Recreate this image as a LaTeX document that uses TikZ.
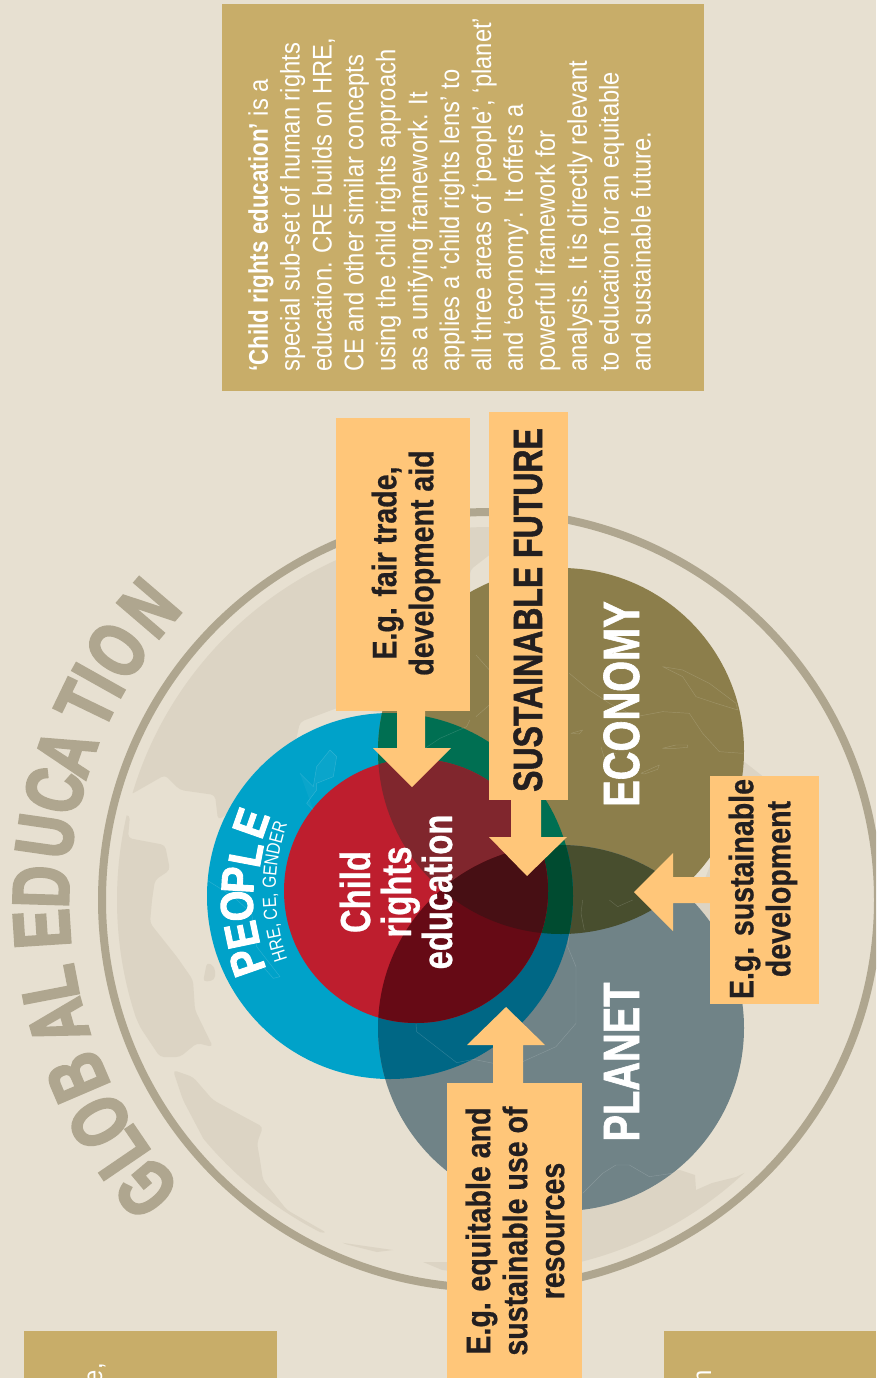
\documentclass[tikz,border=0pt]{standalone}
\usepackage{fontspec}
\setmainfont{Liberation Sans}
\newfontfamily\cnf[FakeStretch=0.78,FakeBold=1.2]{Liberation Sans Bold}
\newfontfamily\childf[FakeStretch=0.78,FakeBold=.6]{Liberation Sans Bold}
\newfontfamily\boxf[FakeStretch=0.84,FakeBold=.6]{Liberation Sans Bold}
\newfontfamily\bodyf[FakeStretch=0.88]{Liberation Sans}
\newfontfamily\bodyb[FakeStretch=0.83]{Liberation Sans Bold}
\newfontfamily\titlef[FakeStretch=0.72,FakeBold=3]{Liberation Sans Bold}
\newfontfamily\peoplef[FakeStretch=0.86,FakeBold=2]{Liberation Sans Bold}
\newfontfamily\href[FakeStretch=0.82]{Liberation Sans}
\usetikzlibrary{decorations.text,calc}
\definecolor{pagebg}{HTML}{E7E0D1}
\definecolor{panel}{HTML}{C8AD69}
\definecolor{ringc}{HTML}{AFA68F}
\definecolor{land}{HTML}{DCD4C4}
\definecolor{orangeb}{HTML}{FFC679}
\definecolor{inkd}{HTML}{231F20}
\definecolor{peoplec}{HTML}{00A2C9}
\definecolor{econc}{HTML}{8C7E4B}
\definecolor{planetc}{HTML}{708387}
\definecolor{childc}{HTML}{BE1E2E}
\definecolor{pe}{HTML}{006F52}
\definecolor{pp}{HTML}{006785}
\definecolor{ep}{HTML}{484E2E}
\definecolor{epp}{HTML}{004B30}
\definecolor{ce}{HTML}{80262D}
\definecolor{cp}{HTML}{660A15}
\definecolor{cep}{HTML}{470F14}
\tikzset{
  panelbox/.style={fill=panel,draw=none,inner sep=0pt},
  orangebox/.style={fill=orangeb,draw=none,inner sep=0pt},
  blockarrow/.style={fill=orangeb,draw=none},
  boxtext/.style={rotate=90,inner sep=0pt,align=center,text=inkd,font=\boxf\fontsize{34}{37}\selectfont},
  bigtext/.style={rotate=90,inner sep=0pt,anchor=base,text=white,font=\cnf\fontsize{51}{51}\selectfont},
  bodytext/.style={rotate=90,inner sep=0pt,text=white,font=\bodyf\fontsize{27}{31.9}\selectfont},
  mapline/.style={draw=white,draw opacity=.17,line width=.45pt,line join=round},
  landfill/.style={fill=land,draw=none,rounded corners=4pt}
}
\begin{document}
\begin{tikzpicture}[x=1pt,y=-1pt]
\useasboundingbox (0,0) rectangle (876,1378);
\clip (0,0) rectangle (876,1378);
\fill[pagebg] (0,0) rectangle (876,1378);

% globe
\begin{scope}
\clip (490,900) circle[radius=373pt];
\fill[landfill] (495,500) -- (492,553) -- (470,570) -- (470,712) -- (375,712) -- (345,705) -- (300,722) -- (295,745) -- (250,800) -- (218,820) -- (215,795) -- (180,790) -- (165,775) -- (130,795) -- (112,780) -- (80,760) -- (80,480) -- cycle;
\fill[landfill] (98,815) -- (130,815) -- (128,838) -- (165,845) -- (170,870) -- (155,880) -- (152,900) -- (150,923) -- (177,957) -- (193,980) -- (195,1010) -- (213,1047) -- (197,1043) -- (180,1057) -- (160,1057) -- (140,1027) -- (123,987) -- (105,943) -- (98,900) -- cycle;
\fill[landfill] (173,1070) -- (193,1077) -- (213,1100) -- (237,1113) -- (263,1127) -- (257,1143) -- (260,1160) -- (263,1180) -- (287,1210) -- (327,1233) -- (300,1230) -- (260,1200) -- (213,1157) -- (183,1100) -- cycle;
\fill[landfill] (207,962) -- (215,967) -- (215,980) -- (203,982) -- cycle;
\fill[land] (337,1242) -- (393,1250) -- (377,1252) -- cycle;
\fill[land] (423,1262) -- (447,1262) -- (447,1272) -- cycle;
\fill[land] (540,1180) -- (680,1170) -- (695,1175) -- (696,1190) -- (712,1183) -- (736,1177) -- (750,1170) -- (700,1230) -- (600,1290) -- (500,1290) -- cycle;
\fill[land] (742,760) -- (765,778) -- (709,925) -- (695,905) -- (735,800) -- cycle;
\end{scope}
\draw[ringc,line width=8pt] (490,900) circle[radius=388pt];

% three circles and overlaps
\fill[peoplec] (390,896) circle[radius=183pt];
\fill[econc] (561,751) circle[radius=183pt];
\fill[planetc] (561,1028) circle[radius=183pt];
\begin{scope}\clip (561,751) circle[radius=183pt]; \fill[ep] (561,1028) circle[radius=183pt];\end{scope}
\begin{scope}\clip (390,896) circle[radius=183pt]; \fill[pe] (561,751) circle[radius=183pt];\end{scope}
\begin{scope}\clip (390,896) circle[radius=183pt]; \fill[pp] (561,1028) circle[radius=183pt];\end{scope}
\begin{scope}\clip (390,896) circle[radius=183pt]; \clip (561,751) circle[radius=183pt]; \fill[epp] (561,1028) circle[radius=183pt];\end{scope}
\fill[childc] (416,891) circle[radius=132pt];
\begin{scope}\clip (416,891) circle[radius=132pt]; \fill[ce] (561,751) circle[radius=183pt]; \fill[cp] (561,1028) circle[radius=183pt];
 \clip (561,751) circle[radius=183pt]; \fill[cep] (561,1028) circle[radius=183pt];\end{scope}

% map outlines on the circles
\begin{scope}[shift={(476,500)},x=.3333pt,y=-.3333pt]
\draw[mapline] (560,500) -- (620,510) -- (700,550) -- (780,610) -- (785,630) -- (720,610) -- (660,590) -- (620,530) -- cycle;
\draw[mapline] (280,520) -- (340,570) -- (400,610) -- (480,650) -- (560,635) -- (640,640) -- (680,700) -- (730,755) -- (800,760);
\draw[mapline] (560,745) -- (600,735) -- (635,735) -- (635,742) -- (600,745) -- cycle;
\draw[mapline] (495,820) -- (550,795) -- (545,808) -- (505,822) -- cycle;
\draw[mapline] (285,700) -- (320,690) -- (310,702) -- cycle;
\draw[mapline] (375,740) -- (385,775) -- (420,760);
\draw[mapline] (0,650) -- (40,615);
\draw[mapline] (0,465) -- (40,510);
\end{scope}
\begin{scope}[shift={(476,900)},x=.3333pt,y=-.3333pt]
\draw[mapline] (280,100) -- (275,140) -- (300,200) -- (300,370) -- (240,440) -- (140,485);
\draw[mapline] (320,880) -- (380,820) -- (420,795) -- (460,795) -- (520,830) -- (590,820);
\draw[mapline] (320,0) -- (315,40) -- (325,90);
\draw[mapline] (400,0) -- (425,20) -- (470,0);
\end{scope}
\begin{scope}[shift={(100,900)},x=.3333pt,y=-.3333pt]
\draw[mapline] (948,370) -- (950,395) -- (1070,488) -- (1120,478) -- (1180,490);
\end{scope}
\begin{scope}[shift={(100,500)},x=.3333pt,y=-.3333pt]
\draw[mapline] (975,745) -- (1020,715) -- (1100,680) -- (1110,660);
\draw[mapline,fill=white,fill opacity=.04] (600,820) -- (640,860) -- (650,800) -- (690,750) -- (710,770) -- (700,830) -- (650,850) -- (650,870) -- (620,910) -- (640,930);
\end{scope}
\begin{scope}[shift={(200,700)},x=.3333pt,y=-.3333pt]
\draw[mapline] (20,540) -- (100,590) -- (155,640) -- (170,740) -- (240,830) -- (220,835) -- (180,790);
\end{scope}

% panels
\node[panelbox,minimum width=482pt,minimum height=387pt] (toppanel) at (463,197.5) {};
\node[panelbox,minimum width=253pt,minimum height=60pt,anchor=north west] (leftpanel) at (24,1331) {};
\node[panelbox,minimum width=212pt,minimum height=60pt,anchor=north west] (rightpanel) at (664,1331) {};
\node[bodytext,anchor=north west,align=left] (toptext) at (248,372) {{\bodyb ‘Child rights education’} is a\\special sub-set of human rights\\education. CRE builds on HRE,\\CE and other similar concepts\\using the child rights approach\\as a unifying framework. It\\applies a ‘child rights lens’ to\\all three areas of ‘people’, ‘planet’\\and ‘economy’. It offers a\\powerful framework for\\analysis. It is directly relevant\\to education for an equitable\\and sustainable future.};
\node[bodytext,anchor=base east] (lefttext) at (102,1363) {e,};
\node[bodytext,anchor=base east] (righttext) at (711,1370) {n};

% block arrows
\coordinate (tipa) at (412,787);
\coordinate (tipb) at (527,876);
\coordinate (tipc) at (634,892);
\coordinate (tipd) at (506,1007);
\node[orangebox,minimum width=134pt,minimum height=293pt] (boxa) at (403,564.5) {};
\node[orangebox,minimum width=79pt,minimum height=388pt] (boxb) at (528.5,606) {};
\node[orangebox,minimum width=109pt,minimum height=228pt] (boxc) at (764.5,890) {};
\node[orangebox,minimum width=135pt,minimum height=295pt] (boxd) at (514.5,1230.5) {};
\fill[blockarrow] (tipa) -- (451,748) -- (425,748) -- (425,0 |- boxa.south) -- (397,0 |- boxa.south) -- (397,748) -- (373,748) -- cycle;
\fill[blockarrow] (tipb) -- (567,837) -- (541,837) -- (541,0 |- boxb.south) -- (511,0 |- boxb.south) -- (511,837) -- (489,837) -- cycle;
\fill[blockarrow] (tipc) -- (673,853) -- (673,877) -- (0,877 -| boxc.west) -- (0,903 -| boxc.west) -- (673,903) -- (673,931) -- cycle;
\fill[blockarrow] (tipd) -- (545,1045) -- (523,1045) -- (523,0 |- boxd.north) -- (493,0 |- boxd.north) -- (493,1045) -- (467,1045) -- cycle;

% box texts
\node[boxtext] (texta) at (406,563) {E.g. fair trade,\\development aid};
\node[boxtext] (textc) at (763,889) {E.g. sustainable\\development};
\node[boxtext] (textd) at (515,1231) {E.g. equitable and\\sustainable use of\\resources};
\node[bigtext,text=inkd,font=\cnf\fontsize{41}{41}\selectfont] (sustain) at (542,610) {SUSTAINABLE FUTURE};
\node[bigtext] (economy) at (639,704) {ECONOMY};
\node[bigtext] (planet) at (639,1062) {PLANET};
\node[rotate=90,inner sep=0pt,align=center,text=white,font=\childf\fontsize{42}{41}\selectfont] (childtext) at (396,892) {Child\\rights\\education};

% PEOPLE on an arc
\foreach \ch/\px/\py/\rt [count=\n] in {P/247/962/109.3,E/242/935/101.8,O/237/906/93.8,P/238/880/86.7,L/246/854/79.3,E/251/823/70.6}
  \node[rotate=\rt,inner sep=0pt,text=white,font=\peoplef\fontsize{46}{46}\selectfont] (people\n) at (\px,\py) {\ch};
\path[postaction={decorate},decoration={text along path,text align=center,text={|\href\fontsize{19}{19}\selectfont\color{white}|HRE, CE, GENDER}}] (287,958) .. controls (272,915) and (272,868) .. (287,825);

% GLOBAL EDUCATION on an arc
\foreach \ch/\ang [count=\n] in {G/220,L/214.3,O/209.6,B/203.2,A/195.9,L/190.9,E/183.7,D/178.3,U/171.8,C/165.9,A/160.8,T/154.2,I/150.7,O/146.2,N/139.4}{
  \pgfmathsetmacro{\gx}{490+449*cos(\ang)}
  \pgfmathsetmacro{\gy}{900-449*sin(\ang)}
  \pgfmathsetmacro{\gr}{\ang-90}
  \node[rotate=\gr,inner sep=0pt,text=ringc,font=\titlef\fontsize{80}{80}\selectfont] (global\n) at (\gx,\gy) {\ch};
}
\end{tikzpicture}
\end{document}
